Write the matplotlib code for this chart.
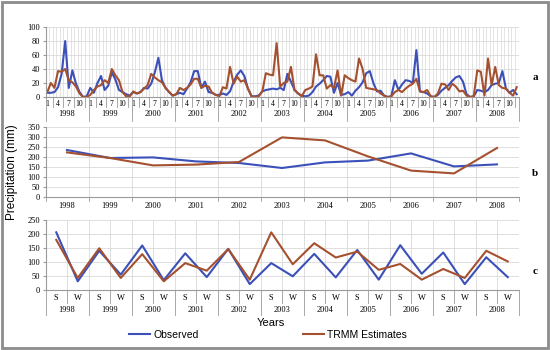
import numpy as np
import matplotlib
matplotlib.use("Agg")
import matplotlib.pyplot as plt
from matplotlib.patches import Rectangle

# monthly precipitation 1998-2008 (panel a)
years = [str(y) for y in range(1998, 2009)]
obs_monthly = [
    6, 6, 7, 14, 33, 80, 13, 38, 19, 7, 0, 1,        # 1998
    13, 6, 20, 30, 10, 16, 35, 25, 10, 7, 4, 2,      # 1999
    7, 5, 7, 13, 12, 19, 35, 56, 24, 13, 7, 2,       # 2000
    4, 6, 4, 12, 21, 37, 37, 13, 22, 7, 6, 3,        # 2001
    3, 5, 3, 8, 22, 32, 38, 30, 12, 1, 1, 2,         # 2002
    8, 10, 11, 12, 11, 13, 10, 33, 22, 10, 5, 2,     # 2003
    1, 2, 7, 15, 19, 24, 30, 29, 6, 20, 3, 4,        # 2004
    7, 2, 9, 14, 21, 34, 37, 20, 8, 9, 2, 0,         # 2005
    1, 24, 10, 18, 24, 23, 20, 67, 8, 7, 5, 1,       # 2006
    0, 3, 9, 13, 17, 23, 28, 30, 22, 4, 0, 1,        # 2007
    10, 9, 7, 10, 17, 19, 20, 37, 12, 6, 10, 4,      # 2008
]
trmm_monthly = [
    7, 20, 13, 37, 36, 40, 24, 21, 15, 5, 0, 0,
    3, 10, 15, 17, 24, 20, 40, 31, 24, 7, 1, 1,
    8, 5, 7, 12, 17, 33, 28, 24, 21, 13, 7, 2,
    4, 13, 10, 13, 18, 26, 26, 13, 16, 15, 6, 3,
    1, 14, 12, 43, 19, 29, 22, 24, 12, 1, 0, 1,
    8, 34, 32, 31, 77, 15, 20, 22, 43, 10, 5, 1,
    10, 12, 15, 61, 31, 31, 12, 17, 13, 38, 2, 31,
    27, 24, 22, 55, 40, 13, 12, 11, 10, 5, 2, 0,
    1, 7, 10, 7, 12, 16, 19, 26, 8, 7, 10, 1,
    0, 5, 19, 18, 10, 19, 15, 8, 9, 2, 0, 1,
    38, 36, 2, 55, 17, 43, 17, 13, 12, 6, 2, 14,
]

# annual totals (panel b)
obs_annual = [235, 195, 198, 178, 170, 145, 173, 182, 218, 153, 163]
trmm_annual = [223, 195, 158, 162, 175, 298, 283, 203, 132, 118, 245]

# seasonal totals, summer/winter (panel c)
seasons = ["S", "W"]
obs_season = [206, 31, 140, 55, 159, 35, 131, 46, 147, 21,
              96, 49, 129, 45, 143, 37, 160, 58, 134, 21, 117, 46]
trmm_season = [179, 43, 149, 43, 128, 31, 96, 69, 146, 37,
               206, 92, 167, 116, 137, 72, 93, 37, 75, 43, 140, 102]

BLUE = "#3b50b8"
BROWN = "#a5502f"
GRID = "#d9d9d9"
AXC = "#9a9a9a"
serif = "Liberation Serif"

W, H = 550, 350
fig = plt.figure(figsize=(W / 100, H / 100), dpi=100)
fig.patches.append(Rectangle((0.004, 0.006), 0.992, 0.988, transform=fig.transFigure,
                             fill=False, edgecolor="#8c8c8c", lw=2))


def make_axes(top_px, bottom_px, left_px=45.5, right_px=518.5):
    return fig.add_axes([left_px / W, 1 - bottom_px / H,
                         (right_px - left_px) / W, (bottom_px - top_px) / H])


def style(ax, ymax, ystep):
    ax.set_ylim(0, ymax)
    ax.set_yticks(np.arange(0, ymax + 1, ystep))
    for s in ("top", "right"):
        ax.spines[s].set_visible(False)
    for s in ("left", "bottom"):
        ax.spines[s].set_color(AXC)
        ax.spines[s].set_linewidth(0.8)
    ax.tick_params(axis="y", length=2, color=AXC, labelsize=6, pad=2)
    ax.tick_params(axis="x", length=0, labelbottom=False)
    for lab in ax.get_yticklabels():
        lab.set_fontfamily(serif)
    ax.grid(axis="y", color=GRID, lw=0.6)
    ax.set_axisbelow(True)


def sep(ax, x, depth_px, ax_h=70):
    ax.plot([x, x], [0, -depth_px / ax_h], transform=ax.get_xaxis_transform(),
            color=AXC, lw=0.6, clip_on=False)


# ---- panel a: monthly ----
ax1 = make_axes(27, 97)
n = len(obs_monthly)
xm = np.arange(n)
style(ax1, 100, 20)
ax1.set_xlim(-0.5, n - 0.5)
for x in np.arange(-0.5, n, 1):
    ax1.axvline(x, color=GRID, lw=0.5, zorder=0)
ax1.plot(xm, obs_monthly, color=BLUE, lw=1.5)
ax1.plot(xm, trmm_monthly, color=BROWN, lw=1.5)
for i, yr in enumerate(years):
    for m in (0, 3, 6, 9):
        ax1.text(12 * i + m, -7 / 70, str(m + 1), transform=ax1.get_xaxis_transform(),
                 ha="center", va="center", fontsize=5.5, family=serif)
        sep(ax1, 12 * i + m + 1.5, 10)
    ax1.text(12 * i + 5.5, -17 / 70, yr, transform=ax1.get_xaxis_transform(),
             ha="center", va="center", fontsize=6, family=serif)
    sep(ax1, 12 * i - 0.5, 24)
sep(ax1, n - 0.5, 24)

# ---- panel b: annual ----
ax2 = make_axes(127, 197)
xa = np.arange(len(years))
style(ax2, 350, 50)
ax2.set_xlim(-0.5, len(years) - 0.5)
for x in np.arange(-0.5, len(years), 1):
    ax2.axvline(x, color=GRID, lw=0.6, zorder=0)
    sep(ax2, x, 4)
ax2.plot(xa, obs_annual, color=BLUE, lw=1.5)
ax2.plot(xa, trmm_annual, color=BROWN, lw=1.5)
for i, yr in enumerate(years):
    ax2.text(i, -9 / 70, yr, transform=ax2.get_xaxis_transform(),
             ha="center", va="center", fontsize=6, family=serif)

# ---- panel c: seasonal ----
ax3 = make_axes(220, 290)
ns = len(obs_season)
xs = np.arange(ns)
style(ax3, 250, 50)
ax3.set_xlim(-0.5, ns - 0.5)
for x in np.arange(-0.5, ns, 1):
    ax3.axvline(x, color=GRID, lw=0.6, zorder=0)
l_obs, = ax3.plot(xs, obs_season, color=BLUE, lw=1.5)
l_trmm, = ax3.plot(xs, trmm_season, color=BROWN, lw=1.5)
for i, yr in enumerate(years):
    for j, s in enumerate(seasons):
        ax3.text(2 * i + j, -8 / 70, s, transform=ax3.get_xaxis_transform(),
                 ha="center", va="center", fontsize=6, family=serif)
    sep(ax3, 2 * i + 0.5, 13)
    sep(ax3, 2 * i - 0.5, 25)
    ax3.text(2 * i + 0.5, -20 / 70, yr, transform=ax3.get_xaxis_transform(),
             ha="center", va="center", fontsize=6, family=serif)
sep(ax3, ns - 0.5, 25)

# panel letters
for lab, ypx in (("a", 77), ("b", 174), ("c", 272)):
    fig.text(535 / W, 1 - ypx / H, lab, ha="center", va="center",
             fontsize=8, fontweight="bold", family=serif)

fig.text(12 / W, 1 - 172 / H, "Precipitation (mm)", rotation=90, ha="center",
         va="center", fontsize=8.5, family="Liberation Sans")
fig.text(271 / W, 1 - 323 / H, "Years", ha="center", va="center",
         fontsize=8, family="Liberation Sans")

fig.legend([l_obs, l_trmm], ["Observed", "TRMM Estimates"], loc="center",
           bbox_to_anchor=(268 / W, 1 - 335 / H), ncol=2, frameon=False,
           prop={"family": "Liberation Sans", "size": 7.5},
           handlelength=2.0, handletextpad=0.3, columnspacing=10)

fig.savefig("out.png", dpi=100)
